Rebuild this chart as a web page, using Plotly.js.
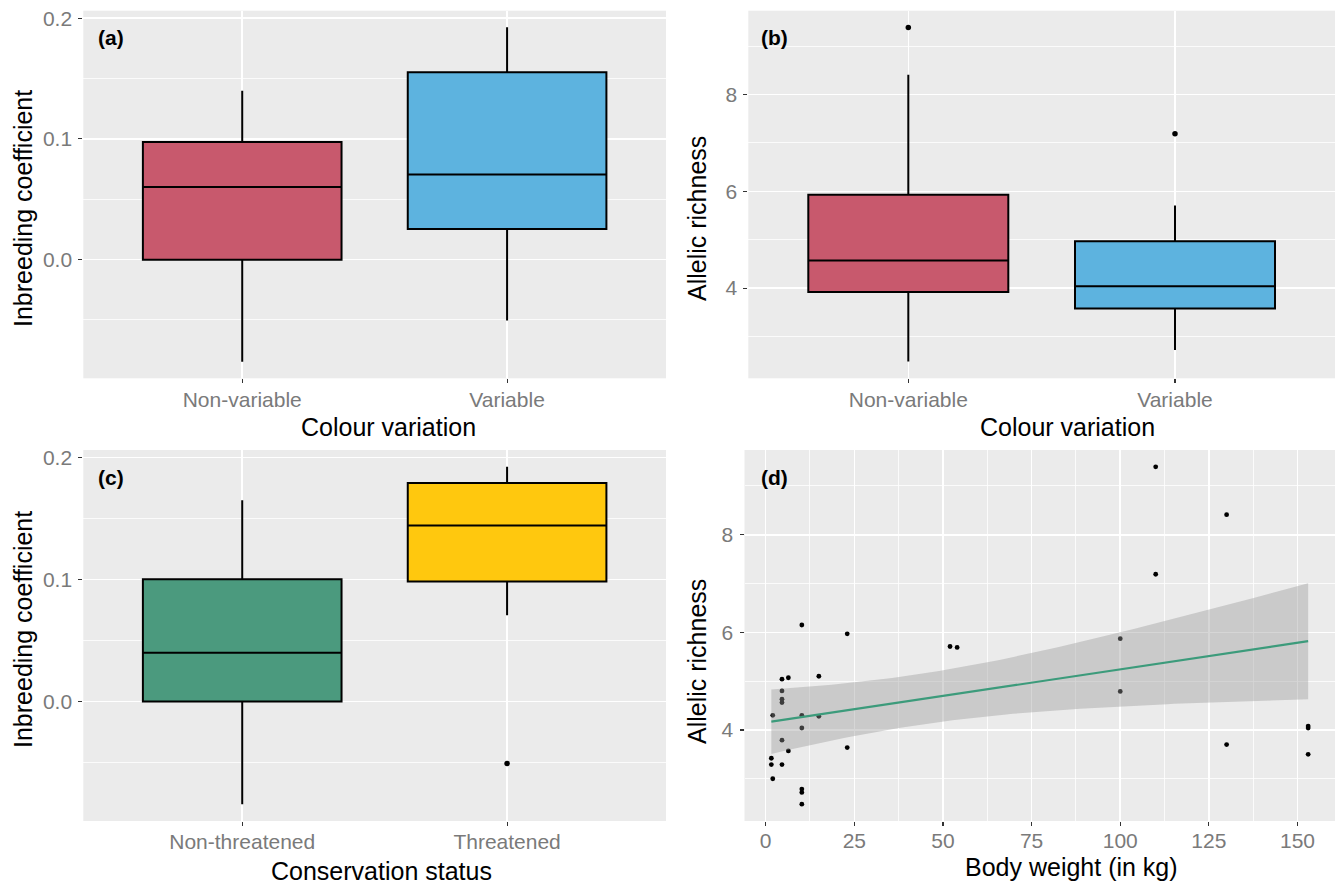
<!DOCTYPE html>
<html>
<head>
<meta charset="utf-8">
<script src="https://cdn.plot.ly/plotly-3.0.1.min.js"></script>
<style>html,body{margin:0;padding:0;background:#fff;}#chart{width:1338px;height:886px;}</style>
</head>
<body>
<div id="chart"></div>
<script>
// ---------- data ----------
var colourCats = ["Non-variable", "Variable"];
var statusCats = ["Non-threatened", "Threatened"];

// (a) inbreeding coefficient by colour variation: [lower, q1, median, q3, upper]
var inbreedColourLower  = [-0.0846, -0.0504];
var inbreedColourQ1     = [0.0000, 0.0254];
var inbreedColourMedian = [0.0602, 0.0706];
var inbreedColourQ3     = [0.0974, 0.1552];
var inbreedColourUpper  = [0.1398, 0.1924];

// (b) allelic richness by colour variation
var richColourLower  = [2.48, 2.72];
var richColourQ1     = [3.92, 3.58];
var richColourMedian = [4.57, 4.04];
var richColourQ3     = [5.93, 4.97];
var richColourUpper  = [8.41, 5.71];
var richColourOutlierCat = ["Non-variable", "Variable"];
var richColourOutlierVal = [9.39, 7.19];

// (c) inbreeding coefficient by conservation status
var inbreedStatusLower  = [-0.0840, 0.0707];
var inbreedStatusQ1     = [0.0000, 0.0983];
var inbreedStatusMedian = [0.0400, 0.1443];
var inbreedStatusQ3     = [0.1003, 0.1790];
var inbreedStatusUpper  = [0.1650, 0.1923];
var inbreedStatusOutlierCat = ["Threatened"];
var inbreedStatusOutlierVal = [-0.0507];

// (d) allelic richness vs body weight
var bodyWeight = [110, 130, 110, 10.2, 23, 52, 54, 100, 4.6, 6.4, 15, 4.6, 4.6, 4.6, 2.0, 10.2, 15,
                  100, 10.2, 153, 153, 4.6, 130, 23, 6.4, 153, 1.6, 1.6, 4.6, 2.0, 10.2, 10.2, 10.2];
var allelicRichness = [9.39, 8.41, 7.19, 6.15, 5.97, 5.71, 5.69, 5.87, 5.04, 5.07, 5.10, 4.80, 4.63, 4.56, 4.30, 4.30, 4.28,
                       4.79, 4.04, 4.08, 4.04, 3.79, 3.70, 3.64, 3.57, 3.50, 3.42, 3.29, 3.29, 3.00, 2.79, 2.72, 2.48];

var colourFill = ["#C8596D", "#5DB3DF"];
var statusFill = ["#4B9A7E", "#FFC80E"];

// ---------- linear model (geom_smooth method = lm) ----------
var n = bodyWeight.length;
var mx = 0, my = 0;
for (var i = 0; i < n; i++) { mx += bodyWeight[i]; my += allelicRichness[i]; }
mx /= n; my /= n;
var sxx = 0, sxy = 0;
for (i = 0; i < n; i++) { sxx += (bodyWeight[i]-mx)*(bodyWeight[i]-mx); sxy += (bodyWeight[i]-mx)*(allelicRichness[i]-my); }
var slope = sxy / sxx, intercept = my - slope*mx;
var sse = 0;
for (i = 0; i < n; i++) { var r = allelicRichness[i] - (intercept + slope*bodyWeight[i]); sse += r*r; }
var sres = Math.sqrt(sse/(n-2));
var tq = 2.0395; // t(0.975, df = 31)
var xmin = Math.min.apply(null, bodyWeight), xmax = Math.max.apply(null, bodyWeight);
var fitX = [], fitY = [], upY = [], loY = [];
for (i = 0; i <= 80; i++) {
  var xv = xmin + (xmax - xmin) * i / 80;
  var yv = intercept + slope*xv;
  var se = sres * Math.sqrt(1/n + (xv-mx)*(xv-mx)/sxx);
  fitX.push(xv); fitY.push(yv); upY.push(yv + tq*se); loY.push(yv - tq*se);
}
var bandX = fitX.concat(fitX.slice().reverse());
var bandY = upY.concat(loY.slice().reverse());

// ---------- traces ----------
var boxLine = {color: "#000000", width: 2};
function boxTrace(cat, lo, q1, med, q3, hi, fill, xa, ya) {
  return {type: "box", x: [cat], lowerfence: [lo], q1: [q1], median: [med], q3: [q3], upperfence: [hi],
          fillcolor: fill, line: boxLine, whiskerwidth: 0, width: 0.75, boxpoints: false,
          xaxis: xa, yaxis: ya, showlegend: false, hoverinfo: "skip"};
}
var traces = [];
for (i = 0; i < 2; i++) {
  traces.push(boxTrace(colourCats[i], inbreedColourLower[i], inbreedColourQ1[i], inbreedColourMedian[i], inbreedColourQ3[i], inbreedColourUpper[i], colourFill[i], "x", "y"));
}
for (i = 0; i < 2; i++) {
  traces.push(boxTrace(colourCats[i], richColourLower[i], richColourQ1[i], richColourMedian[i], richColourQ3[i], richColourUpper[i], colourFill[i], "x2", "y2"));
}
traces.push({type: "scatter", mode: "markers", x: richColourOutlierCat, y: richColourOutlierVal, xaxis: "x2", yaxis: "y2",
             marker: {color: "#000", size: 5.5}, showlegend: false, hoverinfo: "skip"});
for (i = 0; i < 2; i++) {
  traces.push(boxTrace(statusCats[i], inbreedStatusLower[i], inbreedStatusQ1[i], inbreedStatusMedian[i], inbreedStatusQ3[i], inbreedStatusUpper[i], statusFill[i], "x3", "y3"));
}
traces.push({type: "scatter", mode: "markers", x: inbreedStatusOutlierCat, y: inbreedStatusOutlierVal, xaxis: "x3", yaxis: "y3",
             marker: {color: "#000", size: 5.5}, showlegend: false, hoverinfo: "skip"});
traces.push({type: "scatter", mode: "markers", x: bodyWeight, y: allelicRichness, xaxis: "x4", yaxis: "y4",
             marker: {color: "#000", size: 4.8}, showlegend: false, hoverinfo: "skip"});
traces.push({type: "scatter", mode: "lines", x: bandX, y: bandY, fill: "toself", fillcolor: "rgba(153,153,153,0.4)",
             line: {width: 0, color: "rgba(0,0,0,0)"}, xaxis: "x4", yaxis: "y4", showlegend: false, hoverinfo: "skip"});
traces.push({type: "scatter", mode: "lines", x: fitX, y: fitY, line: {color: "#3C9B7B", width: 2.2},
             xaxis: "x4", yaxis: "y4", showlegend: false, hoverinfo: "skip"});

// ---------- layout ----------
var W = 1338, H = 886;
function fx(p) { return p / W; }
function fy(p) { return 1 - p / H; }
var FONT = "Liberation Sans, Arial, Helvetica, sans-serif";
var tickFont = {family: FONT, size: 21, color: "#7A7A7A"};
function axisBase(extra) {
  var a = {showgrid: true, gridcolor: "#FFFFFF", gridwidth: 1.6, zeroline: false, showline: false,
           ticks: "outside", ticklen: 4, tickwidth: 1.1, tickcolor: "#333333", tickfont: tickFont,
           fixedrange: true};
  for (var k in extra) a[k] = extra[k];
  return a;
}
var minorY1 = {dtick: 0.05, showgrid: true, gridcolor: "#FFFFFF", gridwidth: 0.8, ticks: ""};
var minorY2 = {dtick: 1, showgrid: true, gridcolor: "#FFFFFF", gridwidth: 0.8, ticks: ""};

var layout = {
  width: W, height: H, margin: {l: 0, r: 0, t: 0, b: 0},
  paper_bgcolor: "#FFFFFF", plot_bgcolor: "#EBEBEB", showlegend: false,
  font: {family: FONT},
  xaxis:  axisBase({domain: [fx(83.3), fx(666)], type: "category", categoryorder: "array", categoryarray: colourCats, range: [-0.6, 1.6], anchor: "y", ticklabelstandoff: -2}),
  yaxis:  axisBase({domain: [fy(378.3), fy(10.7)], range: [-0.0983, 0.2062], tick0: 0, dtick: 0.1, tickformat: ".1f", minor: minorY1, anchor: "x", ticklabelstandoff: 2}),
  xaxis2: axisBase({domain: [fx(748.3), fx(1335)], type: "category", categoryorder: "array", categoryarray: colourCats, range: [-0.6, 1.6], anchor: "y2", ticklabelstandoff: -2}),
  yaxis2: axisBase({domain: [fy(378.3), fy(10.7)], range: [2.135, 9.735], tick0: 0, dtick: 2, minor: minorY2, anchor: "x2", ticklabelstandoff: 2}),
  xaxis3: axisBase({domain: [fx(83.3), fx(666)], type: "category", categoryorder: "array", categoryarray: statusCats, range: [-0.6, 1.6], anchor: "y3", ticklabelstandoff: -2}),
  yaxis3: axisBase({domain: [fy(821), fy(450)], range: [-0.0978, 0.2061], tick0: 0, dtick: 0.1, tickformat: ".1f", minor: minorY1, anchor: "x3", ticklabelstandoff: 2}),
  xaxis4: axisBase({domain: [fx(744.5), fx(1335)], range: [-5.97, 160.57], tick0: 0, dtick: 25, minor: {dtick: 12.5, showgrid: true, gridcolor: "#FFFFFF", gridwidth: 0.8, ticks: ""}, anchor: "y4", ticklabelstandoff: -3}),
  yaxis4: axisBase({domain: [fy(821), fy(450)], range: [2.135, 9.735], tick0: 0, dtick: 2, minor: minorY2, anchor: "x4", ticklabelstandoff: 2}),
  annotations: []
};
function ann(text, px, py, size, bold, angle, color) {
  layout.annotations.push({text: bold ? "<b>" + text + "</b>" : text, xref: "paper", yref: "paper",
    x: fx(px), y: fy(py), xanchor: "center", yanchor: "middle", showarrow: false, textangle: angle || 0,
    font: {family: FONT, size: size, color: color || "#000000"}});
}
// panel tags
ann("(a)", 110.5, 37, 21, true);
ann("(b)", 774, 37, 21, true);
ann("(c)", 110.5, 477, 21, true);
ann("(d)", 774, 477, 21, true);
// axis titles
ann("Colour variation", 388, 427, 25);
ann("Colour variation", 1067, 427, 25);
ann("Conservation status", 382, 871, 25);
ann("Body weight (in kg)", 1071, 867, 25);
ann("Inbreeding coefficient", 23, 209, 25, false, -90);
ann("Allelic richness", 697, 219, 25, false, -90);
ann("Inbreeding coefficient", 23, 630, 25, false, -90);
ann("Allelic richness", 697, 662, 25, false, -90);

Plotly.newPlot("chart", traces, layout, {staticPlot: true, displayModeBar: false});
</script>
</body>
</html>
